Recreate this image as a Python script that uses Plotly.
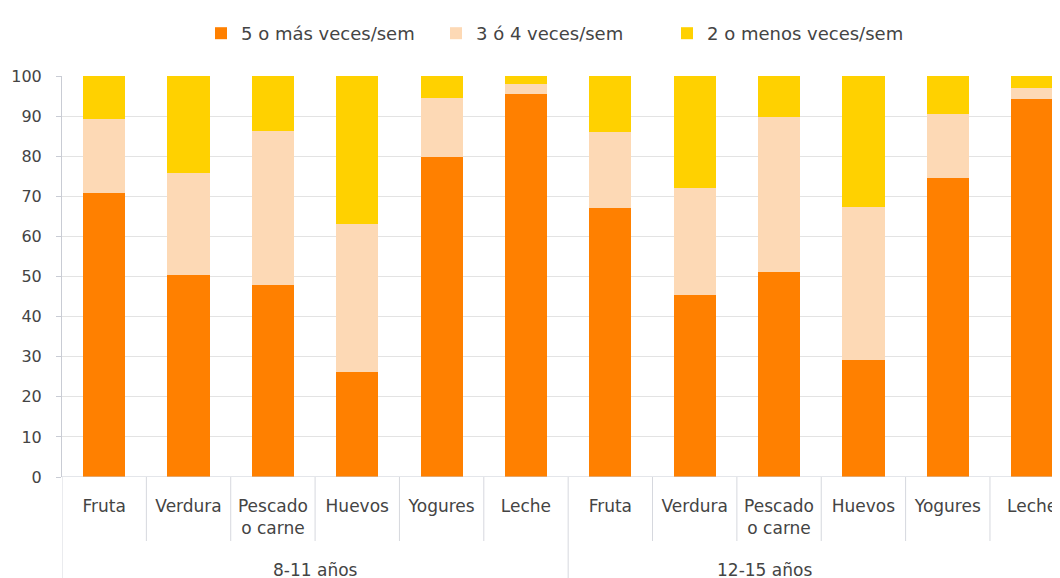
import plotly.graph_objects as go

categories = ["Fruta", "Verdura", "Pescado<br>o carne", "Huevos", "Yogures", "Leche",
              "Fruta", "Verdura", "Pescado<br>o carne", "Huevos", "Yogures", "Leche"]
groups = ["8-11 años", "12-15 años"]
series_names = ["5 o más veces/sem", "3 ó 4 veces/sem", "2 o menos veces/sem"]
cinco_mas = [70.7, 50.4, 47.9, 26.1, 79.9, 95.6, 67.2, 45.4, 51.0, 29.2, 74.6, 94.3]
tres_cuatro = [18.7, 25.5, 38.5, 36.9, 14.5, 2.3, 18.9, 26.7, 38.9, 38.2, 15.9, 2.7]
dos_menos = [10.6, 24.1, 13.6, 37.0, 5.6, 2.1, 13.9, 27.9, 10.1, 32.6, 9.5, 3.0]
y_ticks = [0, 10, 20, 30, 40, 50, 60, 70, 80, 90, 100]

colors = ["#FF8000", "#FDD9B5", "#FFD100"]
legend_widths = [190, 186, 230]
xpos = list(range(len(categories)))

TXT = "#444444"
FONT = "DejaVu Sans"

fig = go.Figure()
for name, vals, col, lw in zip(series_names, [cinco_mas, tres_cuatro, dos_menos], colors, legend_widths):
    fig.add_trace(go.Bar(x=xpos, y=vals, name=name, marker=dict(color=col, line=dict(width=0)),
                         width=0.5, legendwidth=lw))

# page body has an 8px margin: work in figure coordinates = screen - 8
OFF = 8
W, H = 1060, 578
L = 62 - OFF
T = 76 - OFF
B = H - (477 - OFF)
R = 0
plot_w = W - L - R
plot_h = H - T - B
cat_w = 84.36
xr_max = -0.5 + plot_w / cat_w


def px_to_paper_x(px):
    return (px - OFF - L) / plot_w


def py_to_paper_y(py):
    return ((H - B) - (py - OFF)) / plot_h


fig.update_layout(
    barmode="stack",
    width=W, height=H,
    margin=dict(l=L, r=R, t=T, b=B),
    paper_bgcolor="white", plot_bgcolor="white",
    font=dict(family=FONT, color=TXT, size=16),
    legend=dict(orientation="h", x=px_to_paper_x(201), xanchor="left",
                y=py_to_paper_y(15), yanchor="top",
                font=dict(size=18, color=TXT, family=FONT),
                itemwidth=30, traceorder="normal"),
)
fig.update_xaxes(range=[-0.5, xr_max], tickmode="array", tickvals=xpos, ticktext=categories,
                 showgrid=False, showline=False, ticks="", zeroline=False,
                 ticklabelstandoff=17,
                 tickfont=dict(size=17, color=TXT, family=FONT))
fig.update_yaxes(range=[0, 100], tickmode="array", tickvals=y_ticks, showgrid=True,
                 gridcolor="#E3E3E3", gridwidth=1, showline=True, linecolor="#C9CCD4",
                 ticks="outside", ticklen=5, tickcolor="#C9CCD4", zeroline=False,
                 ticklabelstandoff=11, tickfont=dict(size=16, color=TXT, family=FONT))

# baseline
fig.add_shape(type="line", xref="paper", yref="y", x0=0, x1=1, y0=0, y1=0,
              line=dict(color="#C9CCD4", width=1))
sep_bot = py_to_paper_y(541)
grp_bot = py_to_paper_y(590)
for k in range(1, len(categories)):
    if k == 6:
        continue
    fig.add_shape(type="line", xref="x", yref="paper", x0=k - 0.5, x1=k - 0.5,
                  y0=0, y1=sep_bot, line=dict(color="#D6D8DE", width=1))
for xg in [-0.5, 5.5]:
    fig.add_shape(type="line", xref="x", yref="paper", x0=xg, x1=xg,
                  y0=0, y1=grp_bot, line=dict(color="#D6D8DE", width=1))
# right border of the chart area
xb = px_to_paper_x(1059)
fig.add_shape(type="line", xref="paper", yref="paper", x0=xb, x1=xb,
              y0=1, y1=grp_bot, line=dict(color="#E3E3E3", width=1))

# group labels
gy = py_to_paper_y(570)
fig.add_annotation(x=2.5, xref="x", y=gy, yref="paper", yanchor="middle",
                   text=groups[0], showarrow=False, font=dict(size=17, color=TXT, family=FONT))
fig.add_annotation(x=px_to_paper_x(813.5), xref="paper", y=gy, yref="paper", yanchor="middle",
                   text=groups[1], showarrow=False, font=dict(size=17, color=TXT, family=FONT))

fig.write_html("out.html")
